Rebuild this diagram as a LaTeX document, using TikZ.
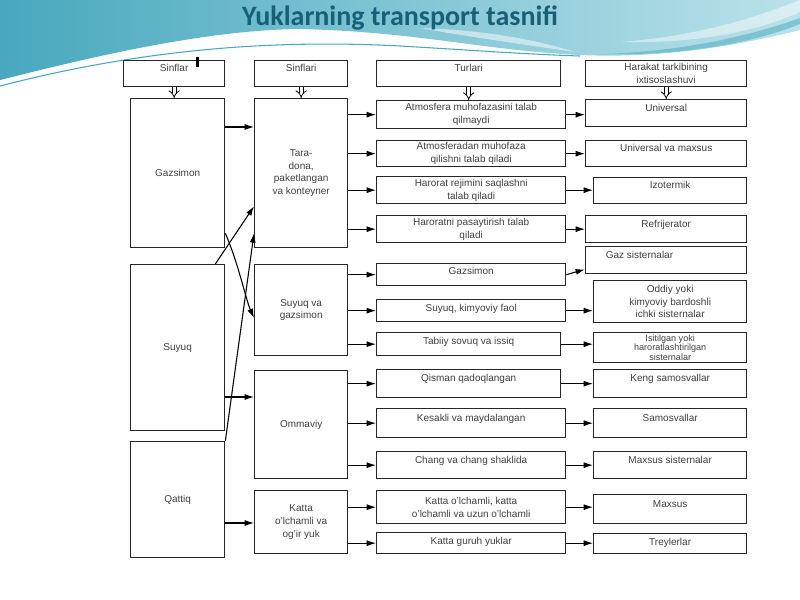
\documentclass[tikz,border=0pt]{standalone}
\usepackage{fontspec}
\setmainfont{Liberation Sans}
\newfontfamily\titlefont{Carlito}
\usetikzlibrary{arrows.meta,calc}

\definecolor{tealdark}{RGB}{72,168,190}
\definecolor{teallight}{RGB}{186,226,234}
\definecolor{titleteal}{RGB}{24,96,118}

\tikzset{every picture/.style={line width=0.75pt}}
\tikzset{
  box/.style={draw=black!85, line width=1pt, anchor=north west, align=center,
    inner sep=1pt, text=black!75, font=\fontsize{7.5}{9.5}\selectfont},
  wh/.style 2 args={minimum width=#1*0.75pt, minimum height=#2*0.75pt},
  up/.style={text depth=#1},
  up/.default=8pt,
  arr/.style={-{Latex[length=7pt,width=4.5pt]}, line width=0.8pt},
  dbl/.style={double distance=2.4pt, line width=0.6pt, -{Implies}},
}

\begin{document}
\begin{tikzpicture}[x=0.75pt,y=0.75pt,yscale=-1,xscale=1]
\useasboundingbox (0,0) rectangle (800,600);

%Background
\fill[white] (0,0) rectangle (800,600);
\shade[left color=tealdark, right color=teallight] (0,0) -- (800,0) -- (800,30) .. controls (720,50) and (650,58) .. (580,55) .. controls (480,50) and (420,32) .. (300,29) .. controls (200,30) and (80,60) .. (0,80) -- cycle;
\draw[tealdark, line width=0.8pt] (0,86) .. controls (120,55) and (250,38) .. (400,46) .. controls (470,50) and (520,54) .. (580,56);
\fill[white, opacity=0.5] (420,28) .. controls (480,30) and (530,38) .. (575,52) .. controls (520,44) and (470,37) .. (420,28) -- cycle;
\fill[white, opacity=0.45] (620,42) .. controls (700,36) and (760,16) .. (800,0) -- (800,12) .. controls (760,30) and (700,44) .. (620,42) -- cycle;
\fill[tealdark, opacity=0.5] (600,54) .. controls (680,52) and (750,36) .. (800,18) -- (800,24) .. controls (750,44) and (680,56) .. (600,54) -- cycle;

% Title
\node[anchor=base, text=titleteal, font=\titlefont\bfseries\fontsize{21}{24}\selectfont] (title) at (400,25) {Yuklarning transport tasnifi};

%Shape: Rectangle -- headers
\node[box, wh={101}{26}, up] (h1) at (123,60) {Sinflar};
\node[box, wh={93}{26}, up] (h2) at (254,60) {Sinflari};
\node[box, wh={184}{26}, up] (h3) at (376,60) {Turlari};
\node[box, wh={161}{26}] (h4) at (585,60) {Harakat tarkibining\\ixtisoslashuvi};
\fill (196,57) rectangle (199,67);

%Shape: Rectangle -- column 1
\node[box, wh={94}{149}] (c1a) at (130,98) {Gazsimon};
\node[box, wh={94}{166}] (c1b) at (130,264) {Suyuq};
\node[box, wh={94}{116}] (c1c) at (130,441) {Qattiq};

%Shape: Rectangle -- column 2
\node[box, wh={93}{149}] (c2a) at (254,98) {Tara-\\dona,\\paketlangan\\va konteyner};
\node[box, wh={93}{91}] (c2b) at (254,264) {Suyuq va\\gazsimon};
\node[box, wh={93}{108}] (c2c) at (254,370) {Ommaviy};
\node[box, wh={93}{63}] (c2d) at (254,490) {Katta\\o'lchamli va\\og'ir yuk};

%Shape: Rectangle -- column 3
\node[box, wh={189}{28}] (t1) at (376,100) {Atmosfera muhofazasini talab\\qilmaydi};
\node[box, wh={189}{26}] (t2) at (376,140) {Atmosferadan muhofaza\\qilishni talab qiladi};
\node[box, wh={189}{27}] (t3) at (376,176) {Harorat rejimini saqlashni\\talab qiladi};
\node[box, wh={189}{27}] (t4) at (376,215) {Haroratni pasaytirish talab\\qiladi};
\node[box, wh={189}{22}, up=5pt] (t5) at (376,263) {Gazsimon};
\node[box, wh={189}{22}, up=4pt] (t6) at (376,299) {Suyuq, kimyoviy faol};
\node[box, wh={184}{23}, up=5pt] (t7) at (376,332) {Tabiiy sovuq va issiq};
\node[box, wh={184}{28}, up] (t8) at (376,369) {Qisman qadoqlangan};
\node[box, wh={189}{29}, up] (t9) at (376,408) {Kesakli va maydalangan};
\node[box, wh={189}{27}, up] (t10) at (376,451) {Chang va chang shaklida};
\node[box, wh={189}{33}] (t11) at (376,490) {Katta o'lchamli, katta\\o'lchamli va uzun o'lchamli};
\node[box, wh={189}{21}, up=4pt] (t12) at (376,532) {Katta guruh yuklar};

%Shape: Rectangle -- column 4
\node[box, wh={161}{27}, up] (u1) at (585,99) {Universal};
\node[box, wh={161}{26}, up] (u2) at (585,140) {Universal va maxsus};
\node[box, wh={153}{26}, up] (u3) at (593,177) {Izotermik};
\node[box, wh={161}{27}, up] (u4) at (585,215) {Refrijerator};
\node[box, wh={161}{27}, up, align=left, anchor=north west] (u5) at (585,246) {\hspace*{-40pt}Gaz sisternalar};
\node[box, wh={153}{42}] (u6) at (593,280) {Oddiy yoki\\kimyoviy bardoshli\\ichki sisternalar};
\node[box, wh={153}{30}, font=\fontsize{6.8}{7.4}\selectfont] (u7) at (593,332) {Isitilgan yoki\\haroratlashtirilgan\\sisternalar};
\node[box, wh={153}{28}, up] (u8) at (593,369) {Keng samosvallar};
\node[box, wh={153}{29}, up] (u9) at (593,408) {Samosvallar};
\node[box, wh={153}{27}, up] (u10) at (593,451) {Maxsus sisternalar};
\node[box, wh={153}{29}, up] (u11) at (593,494) {Maxsus};
\node[box, wh={153}{20}, up=3pt] (u12) at (593,533) {Treylerlar};

% header arrows
\draw[dbl] (h1.south) -- (h1.south |- c1a.north);
\draw[dbl] (h2.south) -- (h2.south |- c2a.north);
\draw[dbl] (h3.south) -- (h3.south |- t1.north);
\draw[dbl] (h4.south) -- (h4.south |- u1.north);

% column 1 to column 2
\coordinate (g1) at ($(c1a.north east)+(0,29)$);
\draw[arr] (g1) -- (g1 -| c2a.west);
\coordinate (s1) at ($(c1b.north east)+(0,133)$);
\draw[arr] (s1) -- (s1 -| c2c.west);
\coordinate (q1) at ($(c1c.north east)+(0,82)$);
\draw[arr] (q1) -- (q1 -| c2d.west);
\draw[arr] ($(c1b.north east)+(-10,0)$) -- ($(c2a.south west)+(0,-42)$);
\draw[arr] ($(c1a.south east)+(0,-15)$) .. controls (238,262) and (246,300) .. ($(c2b.north west)+(0,54)$);
\draw[arr] (c1c.north east) -- ($(c2a.south west)+(0,-15)$);

% column 2 to column 3
\foreach \src/\dst in {c2a/t1,c2a/t2,c2a/t3,c2a/t4,c2b/t5,c2b/t6,c2b/t7,c2c/t8,c2c/t9,c2c/t10,c2d/t11,c2d/t12}
  \draw[arr] (\dst.west -| \src.east) -- (\dst.west);

% column 3 to column 4
\foreach \src/\dst in {t1/u1,t2/u2,t3/u3,t4/u4,t6/u6,t7/u7,t8/u8,t9/u9,t10/u10,t11/u11,t12/u12}
  \draw[arr] (\src.east) -- (\src.east -| \dst.west);
\draw[arr] (t5.east) -- ($(u5.south west)+(0,-5)$);

\end{tikzpicture}
\end{document}
